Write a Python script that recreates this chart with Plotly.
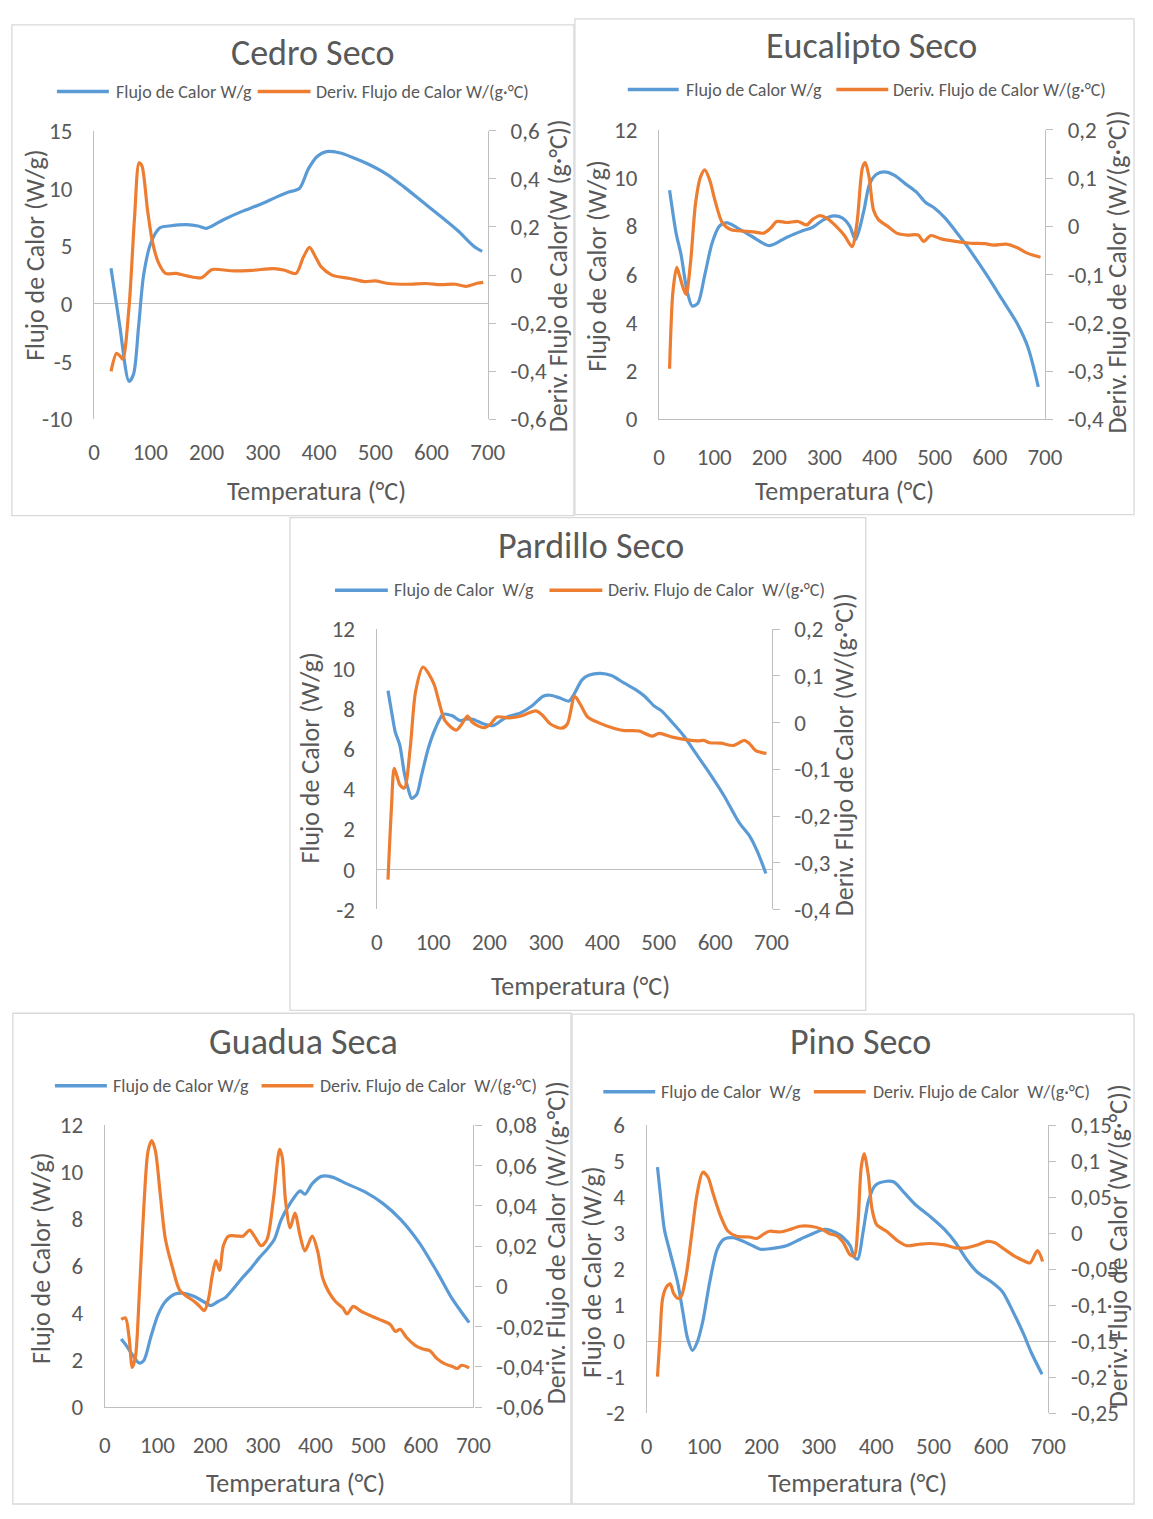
import plotly.graph_objects as go

# ---------------------------------------------------------------------------
# Heat-flow curves (DSC) of five dry woods: (temperature °C, value)
# ---------------------------------------------------------------------------
temp_ticks = [0, 100, 200, 300, 400, 500, 600, 700]

cedro_flujo = [(30, 3.1), (45, -1.7), (62, -6.7), (70, -6.1), (79, -2.0), (88, 2.5),
               (101, 5.3), (117, 6.6), (133, 6.75), (165, 6.87), (185, 6.75), (200, 6.55),
               (230, 7.3), (262, 8.0), (294, 8.6), (326, 9.3), (346, 9.7), (365, 10.0),
               (381, 11.7), (397, 12.8), (413, 13.2), (436, 13.1), (462, 12.65), (488, 12.1),
               (520, 11.25), (552, 10.1), (584, 8.85), (616, 7.6), (648, 6.3), (674, 5.05),
               (690, 4.55)]
cedro_deriv = [(30, -0.40), (40, -0.325), (46, -0.336), (51, -0.35), (62, -0.135), (72, 0.244),
               (80, 0.467), (85, 0.454), (95, 0.27), (104, 0.135), (114, 0.054), (127, 0.007),
               (146, 0.007), (165, -0.003), (191, -0.011), (210, 0.023), (243, 0.018),
               (281, 0.02), (320, 0.027), (339, 0.02), (359, 0.007), (372, 0.074), (383, 0.115),
               (394, 0.074), (404, 0.034), (423, 0.0), (455, -0.014), (481, -0.027),
               (500, -0.024), (520, -0.034), (558, -0.038), (590, -0.035), (616, -0.04),
               (642, -0.038), (661, -0.047), (681, -0.034), (692, -0.03)]

eucalipto_flujo = [(19, 9.5), (31, 7.7), (40, 6.8), (50, 5.4), (60, 4.7), (70, 4.8), (83, 6.0),
                   (96, 7.3), (109, 8.0), (122, 8.15), (141, 7.95), (167, 7.6), (200, 7.2),
                   (232, 7.55), (258, 7.8), (278, 7.95), (298, 8.27), (317, 8.43), (333, 8.34),
                   (346, 8.0), (356, 7.45), (363, 7.85), (372, 8.7), (382, 9.76), (395, 10.17),
                   (412, 10.25), (428, 10.1), (447, 9.76), (467, 9.42), (483, 9.0), (500, 8.75),
                   (519, 8.34), (538, 7.8), (558, 7.2), (591, 6.1), (623, 4.95), (649, 4.0),
                   (669, 3.0), (688, 1.35)]
eucalipto_deriv = [(19, -0.295), (25, -0.136), (32, -0.085), (37, -0.102), (44, -0.129),
                   (49, -0.141), (57, -0.075), (66, 0.047), (75, 0.102), (83, 0.117),
                   (92, 0.095), (102, 0.051), (115, 0.007), (131, -0.007), (154, -0.01),
                   (174, -0.012), (190, -0.014), (203, -0.003), (213, 0.01), (232, 0.008),
                   (252, 0.01), (268, 0.003), (278, 0.014), (291, 0.022), (304, 0.017),
                   (324, -0.003), (337, -0.02), (350, -0.042), (359, 0.007), (369, 0.122),
                   (374, 0.132), (381, 0.102), (389, 0.034), (398, 0.014), (415, 0.0),
                   (431, -0.014), (451, -0.018), (470, -0.018), (480, -0.031), (493, -0.019),
                   (512, -0.026), (538, -0.031), (565, -0.035), (591, -0.036), (607, -0.039),
                   (630, -0.037), (649, -0.044), (669, -0.056), (692, -0.064)]

pardillo_flujo = [(20, 8.93), (28, 7.6), (33, 6.85), (41, 6.2), (49, 4.8), (56, 4.0), (62, 3.55),
                  (71, 3.75), (79, 4.65), (92, 6.1), (105, 7.1), (118, 7.75), (134, 7.67),
                  (148, 7.43), (157, 7.5), (170, 7.5), (190, 7.26), (206, 7.18), (229, 7.59),
                  (256, 7.83), (275, 8.16), (295, 8.65), (308, 8.7), (324, 8.57), (341, 8.41),
                  (351, 8.81), (364, 9.47), (377, 9.71), (397, 9.79), (416, 9.68), (439, 9.3),
                  (459, 8.98), (475, 8.65), (492, 8.16), (505, 7.92), (524, 7.34), (544, 6.69),
                  (564, 5.87), (590, 4.81), (616, 3.67), (642, 2.36), (662, 1.63), (675, 0.89),
                  (690, -0.2)]
pardillo_deriv = [(20, -0.336), (26, -0.185), (31, -0.098), (36, -0.115), (41, -0.133),
                  (49, -0.14), (59, -0.059), (69, 0.067), (82, 0.119), (92, 0.105),
                  (102, 0.081), (111, 0.042), (121, 0.004), (141, -0.016), (151, -0.003),
                  (161, 0.014), (170, 0.0), (190, -0.011), (202, -0.003), (213, 0.012),
                  (236, 0.01), (256, 0.014), (282, 0.025), (292, 0.018), (308, -0.003),
                  (328, -0.012), (338, -0.003), (351, 0.056), (361, 0.039), (374, 0.012),
                  (393, 0.0), (420, -0.012), (439, -0.017), (465, -0.018), (488, -0.029),
                  (501, -0.023), (524, -0.031), (551, -0.037), (570, -0.039), (580, -0.038),
                  (590, -0.043), (610, -0.044), (632, -0.049), (652, -0.038), (661, -0.045),
                  (672, -0.06), (691, -0.066)]

guadua_flujo = [(31, 2.9), (43, 2.55), (53, 2.2), (65, 1.88), (74, 1.99), (87, 2.97), (101, 3.94),
                (115, 4.5), (132, 4.81), (149, 4.85), (170, 4.71), (187, 4.5), (201, 4.33),
                (215, 4.5), (229, 4.67), (242, 4.99), (260, 5.48), (277, 5.9), (294, 6.38),
                (308, 6.73), (322, 7.15), (335, 7.99), (352, 8.68), (371, 9.21), (380, 9.07),
                (394, 9.52), (411, 9.83), (432, 9.8), (459, 9.52), (494, 9.17), (528, 8.68),
                (562, 7.99), (597, 7.01), (631, 5.76), (659, 4.64), (679, 4.0), (692, 3.6)]
guadua_deriv = [(31, -0.0164), (39, -0.0156), (46, -0.0254), (52, -0.0403), (58, -0.0351),
                (65, -0.0059), (74, 0.0397), (82, 0.0673), (89, 0.0725), (96, 0.0673),
                (105, 0.0462), (115, 0.0234), (129, 0.0088), (142, -0.0018), (156, -0.005),
                (170, -0.0075), (180, -0.0099), (189, -0.012), (197, -0.0059), (204, 0.0055),
                (211, 0.0128), (218, 0.008), (225, 0.0202), (235, 0.025), (253, 0.025),
                (263, 0.025), (275, 0.028), (284, 0.025), (297, 0.0202), (308, 0.0234),
                (320, 0.0429), (332, 0.0681), (337, 0.0641), (343, 0.0429), (352, 0.0291),
                (361, 0.0364), (371, 0.025), (380, 0.0177), (394, 0.025), (404, 0.0177),
                (414, 0.0039), (425, -0.0026), (438, -0.0075), (452, -0.0107), (460, -0.0137),
                (472, -0.0099), (487, -0.0124), (507, -0.0148), (521, -0.0164), (542, -0.0189),
                (552, -0.0224), (561, -0.0213), (573, -0.0254), (590, -0.0294), (604, -0.0311),
                (617, -0.0319), (631, -0.0359), (645, -0.0384), (659, -0.0397), (669, -0.0408),
                (678, -0.0392), (692, -0.0405)]

pino_flujo = [(19, 4.84), (25, 3.93), (31, 3.11), (41, 2.47), (54, 1.65), (63, 0.84), (71, 0.11),
              (80, -0.25), (88, -0.03), (98, 0.56), (110, 1.65), (123, 2.56), (135, 2.84),
              (151, 2.88), (167, 2.79), (186, 2.65), (198, 2.56), (217, 2.58), (242, 2.65),
              (268, 2.84), (293, 3.02), (311, 3.11), (330, 3.02), (343, 2.88), (355, 2.65),
              (362, 2.34), (368, 2.29), (377, 3.02), (387, 3.93), (399, 4.34), (418, 4.45),
              (431, 4.43), (450, 4.11), (469, 3.79), (494, 3.47), (519, 3.11), (538, 2.75),
              (557, 2.29), (576, 1.93), (601, 1.65), (620, 1.38), (638, 0.84), (657, 0.2),
              (670, -0.3), (689, -0.91)]
pino_deriv = [(19, -0.199), (23, -0.149), (28, -0.09), (35, -0.074), (41, -0.07), (47, -0.083),
              (54, -0.09), (60, -0.088), (69, -0.058), (79, 0.001), (88, 0.055), (98, 0.085),
              (107, 0.078), (116, 0.055), (129, 0.024), (142, 0.003), (157, -0.004),
              (179, -0.005), (192, -0.007), (204, -0.001), (214, 0.003), (233, 0.002),
              (248, 0.005), (267, 0.01), (286, 0.01), (305, 0.006), (318, 0.0), (333, -0.004),
              (343, -0.013), (355, -0.03), (362, -0.031), (368, 0.01), (374, 0.092),
              (379, 0.111), (386, 0.083), (393, 0.033), (401, 0.012), (418, 0.003),
              (437, -0.01), (453, -0.017), (475, -0.015), (494, -0.014), (519, -0.016),
              (538, -0.02), (557, -0.02), (576, -0.016), (594, -0.011), (607, -0.013),
              (620, -0.02), (638, -0.03), (657, -0.038), (668, -0.041), (681, -0.024),
              (690, -0.039)]

# Axis tick values (left: W/g, right: W/(g·°C))
cedro_left_ticks = [-10, -5, 0, 5, 10, 15]
cedro_right_ticks = [-0.6, -0.4, -0.2, 0, 0.2, 0.4, 0.6]
eucalipto_left_ticks = [0, 2, 4, 6, 8, 10, 12]
eucalipto_right_ticks = [-0.4, -0.3, -0.2, -0.1, 0, 0.1, 0.2]
pardillo_left_ticks = [-2, 0, 2, 4, 6, 8, 10, 12]
pardillo_right_ticks = [-0.4, -0.3, -0.2, -0.1, 0, 0.1, 0.2]
guadua_left_ticks = [0, 2, 4, 6, 8, 10, 12]
guadua_right_ticks = [-0.06, -0.04, -0.02, 0, 0.02, 0.04, 0.06, 0.08]
pino_left_ticks = [-2, -1, 0, 1, 2, 3, 4, 5, 6]
pino_right_ticks = [-0.25, -0.2, -0.15, -0.1, -0.05, 0, 0.05, 0.1, 0.15]

# ---------------------------------------------------------------------------
# Styling
# ---------------------------------------------------------------------------
W, H = 1153, 1519
BLUE = "#5B9BD5"
ORANGE = "#ED7D31"
TEXT = "#595959"
AXIS = "#BFBFBF"
BORDER = "#D9D9D9"
FONT = "Carlito, Calibri, Lato, sans-serif"
NB = "\u00a0"

TICK_SIZE = 23
TITLE_SIZE = 36
LEGEND_SIZE = 18
AXIS_TITLE_SIZE = 26

LEFT_TITLE = "Flujo de Calor (W/g)"
X_TITLE = "Temperatura (°C)"
RIGHT_TITLE = "Deriv. Flujo de Calor (W/(g·°C))"


def label(v):
    """Tick text with a decimal comma and a plain hyphen for negatives."""
    return ("%g" % v).replace(".", ",")


def px(x):
    return x / W


def py(y):
    return 1 - y / H


# Panel geometry in page pixels: box = frame, plot = (left, top, right, bottom)
panels = [
    dict(name="Cedro Seco", flujo=cedro_flujo, deriv=cedro_deriv,
         lt=cedro_left_ticks, rt=cedro_right_ticks,
         box=(6, 11, 580, 511), plot=(90, 119, 492, 413),
         title_xy=(313, 40),
         leg=("Flujo de Calor W/g", "Deriv. Flujo de Calor W/(g·°C)"),
         leg_pos=(52, 105, 110, 257, 311, 315, 79),
         rtitle="Deriv. Flujo de Calor(W (g·°C))",
         ltitle_xy=(30, 245), rtitle_xy=(564, 267), xtitle_xy=(317, 486)),
    dict(name="Eucalipto Seco", flujo=eucalipto_flujo, deriv=eucalipto_deriv,
         lt=eucalipto_left_ticks, rt=eucalipto_right_ticks,
         box=(581, 5, 1152, 510), plot=(667, 118, 1061, 413),
         title_xy=(884, 33),
         leg=("Flujo de Calor W/g", "Deriv. Flujo de Calor W/(g·°C)"),
         leg_pos=(635, 687, 692, 848, 901, 904, 77),
         rtitle=RIGHT_TITLE,
         ltitle_xy=(604, 256), rtitle_xy=(1135, 263), xtitle_xy=(856, 486)),
    dict(name="Pardillo Seco", flujo=pardillo_flujo, deriv=pardillo_deriv,
         lt=pardillo_left_ticks, rt=pardillo_right_ticks,
         box=(290, 513, 878, 1015), plot=(378.6, 626.7, 781.8, 912.3),
         title_xy=(597, 542),
         leg=("Flujo de Calor" + NB + NB + "W/g", "Deriv. Flujo de Calor" + NB + NB + "W/(g·°C)"),
         leg_pos=(336, 390, 394, 555, 609, 613, 587),
         rtitle=RIGHT_TITLE,
         ltitle_xy=(311, 758), rtitle_xy=(856, 755), xtitle_xy=(587, 990)),
    dict(name="Guadua Seca", flujo=guadua_flujo, deriv=guadua_deriv,
         lt=guadua_left_ticks, rt=guadua_right_ticks,
         box=(7, 1018, 577, 1518), plot=(101, 1132.3, 477.3, 1419.3),
         title_xy=(304, 1047),
         leg=("Flujo de Calor W/g", "Deriv. Flujo de Calor" + NB + NB + "W/(g·°C)"),
         leg_pos=(50, 103, 107, 261, 314, 319, 1092),
         rtitle=RIGHT_TITLE,
         ltitle_xy=(35, 1267), rtitle_xy=(562, 1252), xtitle_xy=(296, 1497)),
    dict(name="Pino Seco", flujo=pino_flujo, deriv=pino_deriv,
         lt=pino_left_ticks, rt=pino_right_ticks,
         box=(578, 1019, 1152, 1518), plot=(654.2, 1132.3, 1064.5, 1425.7),
         title_xy=(873, 1047),
         leg=("Flujo de Calor" + NB + NB + "W/g", "Deriv. Flujo de Calor" + NB + NB + "W/(g·°C)"),
         leg_pos=(610, 663, 667, 825, 878, 883, 1098),
         rtitle=RIGHT_TITLE,
         ltitle_xy=(599, 1282), rtitle_xy=(1135, 1255), xtitle_xy=(870, 1497)),
]

fig = go.Figure()
layout = dict(
    width=W, height=H,
    margin=dict(l=0, r=0, t=0, b=0),
    paper_bgcolor="white", plot_bgcolor="rgba(0,0,0,0)",
    showlegend=False,
    font=dict(family=FONT, color=TEXT),
)
shapes, annotations = [], []


def note(text, x, y, size, angle=0, xanchor="center"):
    annotations.append(dict(text=text, x=px(x), y=py(y), xref="paper", yref="paper",
                            showarrow=False, xanchor=xanchor, yanchor="middle",
                            textangle=angle, font=dict(size=size, color=TEXT, family=FONT)))


tick_font = dict(size=TICK_SIZE, color=TEXT, family=FONT)

for k, p in enumerate(panels):
    xid = "x" if k == 0 else f"x{k + 1}"
    ly = "y" if k == 0 else f"y{2 * k + 1}"
    ry = f"y{2 * k + 2}"
    xkey = "xaxis" if k == 0 else f"xaxis{k + 1}"
    lkey = "yaxis" if k == 0 else f"yaxis{2 * k + 1}"
    rkey = f"yaxis{2 * k + 2}"

    x0, yt, x1, yb = p["plot"]
    lt, rt = p["lt"], p["rt"]
    bottom_zero = lt[0] == 0

    layout[xkey] = dict(
        domain=[px(x0), px(x1)], anchor=ly, range=[0, 700],
        tickvals=temp_ticks, ticktext=[label(v) for v in temp_ticks],
        ticks="", showgrid=False, zeroline=False,
        showline=bottom_zero, linecolor=AXIS, linewidth=1.3,
        ticklabelstandoff=17, tickfont=tick_font,
        fixedrange=True,
    )
    layout[lkey] = dict(
        domain=[py(yb), py(yt)], anchor=xid, range=[lt[0], lt[-1]],
        tickvals=lt, ticktext=[label(v) for v in lt],
        ticks="", showgrid=False,
        zeroline=not bottom_zero, zerolinecolor=AXIS, zerolinewidth=1.3,
        showline=True, linecolor=AXIS, linewidth=1.3,
        ticklabelstandoff=16, tickfont=tick_font,
        fixedrange=True,
    )
    layout[rkey] = dict(
        overlaying=ly, anchor=xid, side="right", range=[rt[0], rt[-1]],
        tickvals=rt, ticktext=[label(v) for v in rt],
        ticks="outside", ticklen=7, tickcolor=AXIS, tickwidth=1.3,
        showgrid=False, zeroline=False,
        showline=True, linecolor=AXIS, linewidth=1.3,
        ticklabelstandoff=10, tickfont=tick_font,
        fixedrange=True,
    )

    ft, fv = zip(*p["flujo"])
    dt, dv = zip(*p["deriv"])
    fig.add_trace(go.Scatter(x=ft, y=fv, xaxis=xid, yaxis=ly, mode="lines",
                             name=p["leg"][0], hoverinfo="skip",
                             line=dict(color=BLUE, width=3.2, shape="spline", smoothing=0.8)))
    fig.add_trace(go.Scatter(x=dt, y=dv, xaxis=xid, yaxis=ry, mode="lines",
                             name=p["leg"][1], hoverinfo="skip",
                             line=dict(color=ORANGE, width=3.2, shape="spline", smoothing=0.8)))

    # frame of the chart
    bx0, by0, bx1, by1 = p["box"]
    shapes.append(dict(type="rect", xref="paper", yref="paper",
                       x0=px(bx0), x1=px(bx1), y0=py(by1), y1=py(by0),
                       line=dict(color=BORDER, width=1.3), fillcolor="rgba(0,0,0,0)",
                       layer="below"))

    # chart title
    note(p["name"], *p["title_xy"], TITLE_SIZE)

    # legend keys
    b0, b1, btx, o0, o1, otx, ly_ = p["leg_pos"]
    for (s0, s1, col) in ((b0, b1, BLUE), (o0, o1, ORANGE)):
        shapes.append(dict(type="line", xref="paper", yref="paper",
                           x0=px(s0), x1=px(s1), y0=py(ly_), y1=py(ly_),
                           line=dict(color=col, width=3.5)))
    note(p["leg"][0], btx, ly_, LEGEND_SIZE, xanchor="left")
    note(p["leg"][1], otx, ly_, LEGEND_SIZE, xanchor="left")

    # axis titles
    note(LEFT_TITLE, *p["ltitle_xy"], AXIS_TITLE_SIZE, angle=-90)
    note(p["rtitle"], *p["rtitle_xy"], AXIS_TITLE_SIZE, angle=-90)
    note(X_TITLE, *p["xtitle_xy"], AXIS_TITLE_SIZE)

layout["shapes"] = shapes
layout["annotations"] = annotations
fig.update_layout(**layout)

# pin the figure to the top-left corner of the page so nothing scrolls
page_script = (
    "document.documentElement.style.margin='0';"
    "document.documentElement.style.overflow='hidden';"
    "document.body.style.margin='0';"
    "document.body.style.overflow='hidden';"
    "var g=document.getElementById('{plot_id}');"
    "g.style.position='absolute';g.style.left='0px';g.style.top='0px';"
)

fig.write_html("out.html", config=dict(displayModeBar=False), post_script=page_script)
